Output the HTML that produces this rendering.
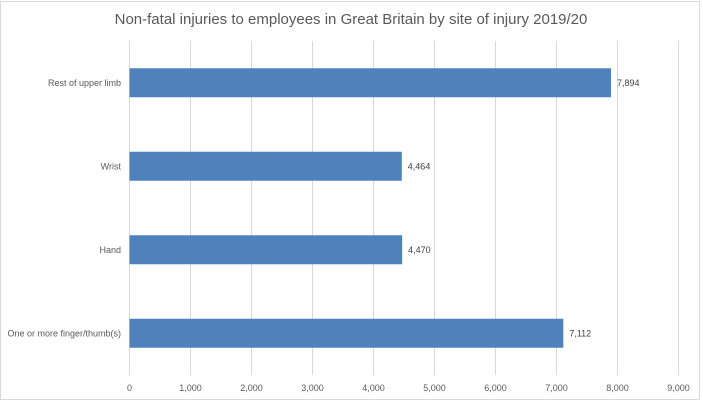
<!DOCTYPE html>
<html><head><meta charset="utf-8"><style>
body{margin:0;background:#fff;}
svg{display:block;font-family:"Liberation Sans",sans-serif;}
</style></head><body>
<svg id="chart" width="703" height="402" xmlns="http://www.w3.org/2000/svg">
<rect x="0.5" y="1.5" width="699" height="398" fill="#fff" stroke="#d9d9d9"/>
<text x="351" y="24" text-anchor="middle" font-size="15" fill="#595959">Non-fatal injuries to employees in Great Britain by site of injury 2019/20</text>
<g id="grid"></g><g id="bars"></g><g id="labels"></g>
</svg>
<script>
const categories=["Rest of upper limb","Wrist","Hand","One or more finger/thumb(s)"];
const values=[7894,4464,4470,7112];
const valueLabels=["7,894","4,464","4,470","7,112"];
const ticks=[0,1000,2000,3000,4000,5000,6000,7000,8000,9000];
const tickLabels=["0","1,000","2,000","3,000","4,000","5,000","6,000","7,000","8,000","9,000"];
const NS="http://www.w3.org/2000/svg";
const x0=129.5,x1=678.5,xmax=9000,yTop=41,yBottom=375;
const x=v=>x0+(x1-x0)*v/xmax;
const band=(yBottom-yTop)/categories.length;
const yc=i=>yTop+band*(i+0.5);
function mk(t,a,p){const e=document.createElementNS(NS,t);for(const k in a)e.setAttribute(k,a[k]);p.appendChild(e);return e;}
const grid=document.getElementById('grid'),bars=document.getElementById('bars'),labels=document.getElementById('labels');
ticks.forEach((t,i)=>{
 const l=mk('line',{x1:x(t),x2:x(t),y1:yTop,y2:yBottom,stroke:'#d9d9d9','stroke-width':1},grid);
 
 
 const tx=mk('text',{x:x(t),y:391,'text-anchor':'middle','font-size':9,fill:'#595959'},labels);
 tx.textContent=tickLabels[i];
 
 
});
categories.forEach((c,i)=>{
 const r=mk('rect',{x:x(0),y:yc(i)-14.5,width:x(values[i])-x(0),height:29,fill:'#4f81bd'},bars);
 
 
 const cl=mk('text',{x:121,y:yc(i)+3,'text-anchor':'end','font-size':9,fill:'#595959'},labels);
 cl.textContent=c;
 
 
 const vl=mk('text',{x:x(values[i])+6,y:yc(i)+3,'font-size':9,fill:'#404040'},labels);
 vl.textContent=valueLabels[i];
 
 
});
</script>
</body></html>
